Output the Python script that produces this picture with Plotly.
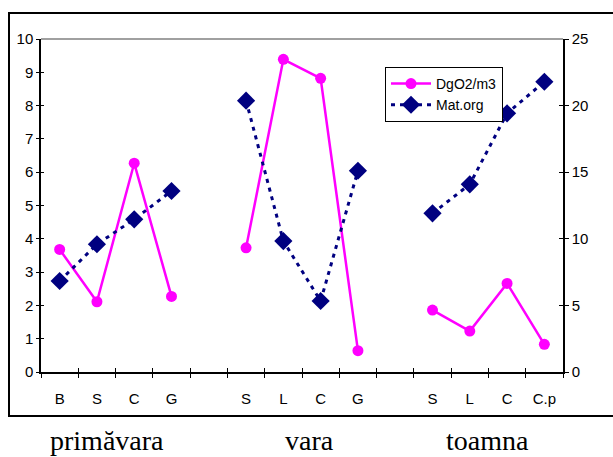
import plotly.graph_objects as go

# ---- data ----
tick_labels = ["B", "S", "C", "G", "", "S", "L", "C", "G", "", "S", "L", "C", "C.p"]
dgo2 = [3.68, 2.11, 6.27, 2.27, None, 3.73, 9.39, 8.82, 0.64, None, 1.86, 1.23, 2.66, 0.83]
mat_org = [6.83, 9.59, 11.46, 13.59, None, 20.37, 9.83, 5.33, 15.11, None, 11.91, 14.09, 19.42, 21.79]
seasons = ["primăvara", "vara", "toamna"]
season_pos = [0.126, 0.515, 0.856]

x = list(range(len(tick_labels)))
boundaries = [i - 0.5 for i in range(len(tick_labels) + 1)]
xr = [-0.5, len(tick_labels) - 0.5]

TICKFONT = dict(family="Liberation Sans", size=15, color="black")

fig = go.Figure()
fig.add_trace(go.Scatter(
    x=x, y=dgo2, name="DgO2/m3", mode="lines+markers",
    line=dict(color="#FF00FF", width=2.5),
    marker=dict(symbol="circle", size=11, color="#FF00FF"),
    xaxis="x", yaxis="y",
))
fig.add_trace(go.Scatter(
    x=x, y=mat_org, name="Mat.org", mode="lines+markers",
    line=dict(color="#000080", width=3, dash="4px,5px"),
    marker=dict(symbol="diamond", size=14, color="#000080"),
    xaxis="x", yaxis="y2",
))
# empty traces to materialise the overlay axes that carry the inner tick halves
fig.add_trace(go.Scatter(x=[], y=[], xaxis="x2", yaxis="y3", showlegend=False, hoverinfo="skip"))
fig.add_trace(go.Scatter(x=[], y=[], xaxis="x2", yaxis="y4", showlegend=False, hoverinfo="skip"))

for i, s in enumerate(seasons):
    fig.add_annotation(text=s, xref="paper", yref="paper", x=season_pos[i], y=-0.205,
                       xanchor="center", yanchor="middle", showarrow=False,
                       font=dict(family="Liberation Serif", size=28, color="black"))

fig.update_layout(
    width=613, height=457,
    margin=dict(l=41, r=50, t=39, b=85),
    paper_bgcolor="white", plot_bgcolor="white",
    showlegend=True,
    legend=dict(x=0.659, y=0.916, xanchor="left", yanchor="top",
                bgcolor="white", bordercolor="black", borderwidth=1,
                font=dict(family="Liberation Sans", size=14, color="black"),
                tracegroupgap=0, itemwidth=40),
    xaxis=dict(range=xr, tickmode="array", tickvals=x, ticktext=tick_labels,
               ticks="outside", ticklen=12, tickcolor="rgba(0,0,0,0)",
               showline=True, linecolor="black", linewidth=1.5, showgrid=False, zeroline=False,
               tickfont=TICKFONT,
               minor=dict(tickmode="array", tickvals=boundaries, ticks="outside", ticklen=4,
                          tickcolor="black", tickwidth=1, showgrid=False)),
    yaxis=dict(range=[0, 10], tickmode="array", tickvals=list(range(11)),
               ticks="outside", ticklen=3, tickcolor="black",
               showline=True, linecolor="black", linewidth=1.5, showgrid=False, zeroline=False,
               tickfont=TICKFONT),
    yaxis2=dict(range=[0, 25], tickmode="array", tickvals=[0, 5, 10, 15, 20, 25],
                overlaying="y", side="right", anchor="x",
                ticks="outside", ticklen=4, tickcolor="black",
                showline=True, linecolor="black", linewidth=1.5, showgrid=False, zeroline=False,
                tickfont=TICKFONT),
    xaxis2=dict(range=xr, overlaying="x", anchor="y3", tickmode="array", tickvals=boundaries,
                ticks="inside", ticklen=4, tickcolor="black", showticklabels=False,
                showline=False, showgrid=False, zeroline=False),
    yaxis3=dict(range=[0, 10], overlaying="y", anchor="x2", side="left", tickmode="array",
                tickvals=list(range(11)), ticks="inside", ticklen=3, tickcolor="black",
                showticklabels=False, showline=False, showgrid=False, zeroline=False),
    yaxis4=dict(range=[0, 25], overlaying="y", anchor="x2", side="right", tickmode="array",
                tickvals=[0, 5, 10, 15, 20, 25], ticks="inside", ticklen=4, tickcolor="black",
                showticklabels=False, showline=False, showgrid=False, zeroline=False),
    shapes=[
        dict(type="line", xref="paper", yref="paper", x0=0, x1=1, y0=1, y1=1,
             line=dict(color="#808080", width=1.5), layer="below"),
        dict(type="rect", xref="paper", yref="paper", x0=-0.0613, x1=1.2, y0=-0.132, y1=1.078,
             line=dict(color="black", width=2), fillcolor="rgba(0,0,0,0)", layer="below"),
    ],
)

fig.write_html("out.html")
